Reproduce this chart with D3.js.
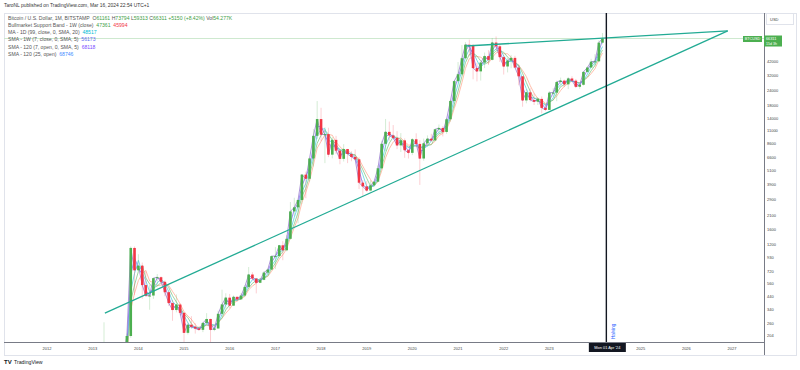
<!DOCTYPE html>
<html><head><meta charset="utf-8">
<script src="https://cdn.jsdelivr.net/npm/d3@7"></script>
<style>html,body{margin:0;padding:0;background:#fff;}svg{display:block;font-family:"Liberation Sans",Arial,sans-serif;}</style>
</head><body>
<svg id="c" width="800" height="370"></svg>
<script>
// ---- DATA (monthly BTC/USD, Bitstamp) ----
const firstMonth = "2013-01-01";
const opens = [
 13.3,20.4,33.4,93,139,129,97,106,135,133,204,1130,
 732,800,549,446,448,628,640,585,478,387,338,376,
 320,217,254,244,236,230,263,284,230,236,314,377,
 430,368,437,416,448,530,674,623,574,608,700,742,
 964,965,1190,1080,1350,2300,2490,2870,4700,4340,6440,10000,
 13850,10220,10330,6930,9240,7490,6390,7730,7020,6630,6330,4020,
 3740,3450,3820,4100,5320,8560,10800,10080,9600,8300,9150,7560,
 7180,9350,8540,6430,8640,9450,9140,11340,11650,10780,13800,19700,
 28950,33100,45200,58800,57750,37300,35000,41500,47100,43800,61300,57000,
 46200,38500,43200,45500,37700,31800,19900,23300,20050,19400,20500,17200,
 16550,23130,23150,28480,29250,27200,30480,29230,25940,26970,34650,37720,
 42280,42580,61161];
const highs = [
 20.4,33.8,93,266,140,130,111,135,144,214,1163,1163,
 1000,850,718,548,634,680,650,600,492,412,458,385,
 320,266,300,262,248,267,318,286,246,334,502,468,
 462,448,440,470,550,780,705,627,620,720,755,975,
 1150,1200,1290,1450,2760,3000,2900,4750,4980,6470,11400,19660,
 17250,11800,11700,9760,9990,7770,8500,7760,7410,7680,6590,4230,
 4140,4210,4140,5620,9100,13880,13200,12330,10950,10540,9500,7750,
 9580,10500,9180,9470,10080,10400,11450,12470,12070,14100,19900,29300,
 41950,58350,61780,64900,59500,41300,42300,50500,52900,67000,69000,59100,
 47900,45800,48200,47400,40000,31900,24700,25200,22800,20990,21500,18400,
 23900,25250,29200,31000,29850,31400,31800,30200,27500,35000,38400,44700,
 48970,64000,73794];
const lows = [
 13.2,19.1,33,50,85,88,65,96,110,105,197,455,
 726,420,438,340,420,540,565,442,365,274,323,305,
 152,210,237,214,226,220,253,162,224,236,300,347,
 350,365,396,414,436,520,606,467,570,603,678,740,
 750,940,890,1060,1330,2100,1830,2670,2970,4110,5500,9400,
 9000,5880,6600,6450,7030,5750,6070,5880,6100,6200,3550,3120,
 3360,3390,3690,4060,5300,7440,9100,9350,7720,7300,6520,6430,
 6870,8450,3850,6160,8120,8900,8980,10650,9880,10400,13200,17600,
 28100,32300,44900,47000,30000,28800,29300,37300,39600,43300,53300,42000,
 32900,34300,37200,37600,26700,17600,18800,19500,18200,18200,15500,16300,
 16500,21400,19600,26950,25800,24800,28900,25300,24900,26550,34100,37600,
 38500,41880,59313];
const closes = [
 20.4,33.4,93,139,129,97,106,135,133,204,1130,732,
 800,549,446,448,628,640,585,478,387,338,376,320,
 217,254,244,236,230,263,284,230,236,314,377,430,
 368,437,416,448,530,674,623,574,608,700,742,964,
 965,1190,1080,1350,2300,2490,2870,4700,4340,6440,10000,13850,
 10220,10330,6930,9240,7490,6390,7730,7020,6630,6330,4020,3740,
 3450,3820,4100,5320,8560,10800,10080,9600,8300,9150,7560,7180,
 9350,8540,6430,8640,9450,9140,11340,11650,10780,13800,19700,28950,
 33100,45200,58800,57750,37300,35000,41500,47100,43800,61300,57000,46200,
 38500,43200,45500,37700,31800,19900,23300,20050,19400,20500,17200,16550,
 23130,23150,28480,29250,27200,30480,29230,25940,26970,34650,37720,42280,
 42580,61160,66311];
const priceTicks = [204,260,340,440,560,720,930,1200,1600,2100,2900,3900,5100,6600,8600,11000,14000,18000,24000,32000,42000];
const yearTicks = [2012,2013,2014,2015,2016,2017,2018,2019,2020,2021,2022,2023,2025,2026,2027];
const trendLines = [
  {d1:"2013-04-08", p1:318, d2:"2026-11-28", p2:76800},
  {d1:"2021-03-05", p1:57300, d2:"2026-11-28", p2:76800}
];
const halvingDate = "2024-04-01";
const lastPrice = 66311;
const legendRows = [
  [["Bitcoin / U.S. Dollar, 1M, BITSTAMP  ","#555"],["O","#555"],["61161 ","#43a047"],["H","#555"],["73794 ","#43a047"],["L","#555"],["59313 ","#43a047"],["C","#555"],["66311 ","#43a047"],["+5150 (+8.42%) ","#43a047"],["Vol","#555"],["54.277K","#43a047"]],
  [["Bullmarket Support Band - 1W (close)  ","#555"],["47361  ","#43a047"],["45994","#f23645"]],
  [["MA - 1D (99, close, 0, SMA, 20)  ","#555"],["48517","#00bcd4"]],
  [["SMA - 1W (7, close, 0, SMA, 5)  ","#555"],["56173","#5c6bf0"]],
  [["SMA - 120 (7, open, 0, SMA, 5)  ","#555"],["68118","#7c4dff"]],
  [["SMA - 120 (25, open)  ","#555"],["68746","#448aff"]]
];

// ---- LAYOUT ----
const svg = d3.select("#c");
const L = 4, R = 764, T = 13, B = 342;
const months = d3.timeMonth.range(new Date(firstMonth), d3.timeMonth.offset(new Date(firstMonth), opens.length));
const bars = months.map((d,i)=>({d, o:opens[i], h:highs[i], l:lows[i], c:closes[i]}));

const x = d3.scaleTime().domain([new Date("2012-01-01"), new Date("2027-01-01")]).range([47, 732]);
const y = d3.scaleLog().domain([204, 42000]).range([336, 62]);

svg.append("clipPath").attr("id","pc").append("rect").attr("x",L).attr("y",T).attr("width",R-L).attr("height",B-T);

// frame
svg.append("rect").attr("x",L+0.5).attr("y",T+0.5).attr("width",796-L).attr("height",355-T).attr("fill","none").attr("stroke","#e0e3eb");
svg.append("line").attr("x1",R+0.5).attr("x2",R+0.5).attr("y1",T).attr("y2",355).attr("stroke","#787b86");
svg.append("line").attr("x1",L).attr("x2",R).attr("y1",B+0.5).attr("y2",B+0.5).attr("stroke","#787b86");

// header
svg.append("text").attr("x",4).attr("y",7).attr("font-size",4.9).attr("fill","#333")
  .text("TaroNL published on TradingView.com, Mar 16, 2024 22:54 UTC+1");

const g = svg.append("g").attr("clip-path","url(#pc)");

// last price line
g.append("line").attr("x1",L).attr("x2",R).attr("y1",y(lastPrice)).attr("y2",y(lastPrice))
  .attr("stroke","#c8e6c9").attr("stroke-width",0.9);

// moving-average style lines derived from closes
function sma(n){ return closes.map((v,i)=> i<n-1?null: d3.mean(closes.slice(i-n+1,i+1))); }
const maDefs = [
  {vals:sma(5), color:"#ffab91"},
  {vals:sma(4), color:"#81c784"},
  {vals:sma(3), color:"#4dd0e1"},
  {vals:sma(2), color:"#7b6cf0"},
  {vals:closes, color:"#9575cd"}
];
maDefs.forEach(m=>{
  const line = d3.line().defined((d,i)=>m.vals[i]!=null).x((d,i)=>x(months[i])).y((d,i)=>y(m.vals[i]));
  g.append("path").datum(months).attr("d",line).attr("fill","none").attr("stroke",m.color).attr("stroke-width",0.9).attr("opacity",0.85);
});

// candles
const up = "#4caf50", dn = "#f23645";
const bw = 2.6;
const cg = g.append("g");
cg.selectAll("line.w").data(bars).join("line").attr("class","w")
  .attr("x1",d=>x(d.d)).attr("x2",d=>x(d.d)).attr("y1",d=>y(d.h)).attr("y2",d=>y(d.l))
  .attr("stroke",d=>d.c>=d.o?up:dn).attr("stroke-opacity",0.3).attr("stroke-width",0.8);
cg.selectAll("rect.b").data(bars).join("rect").attr("class","b")
  .attr("x",d=>x(d.d)-bw/2).attr("width",bw)
  .attr("y",d=>y(Math.max(d.o,d.c)))
  .attr("height",d=>Math.max(1, Math.abs(y(d.o)-y(d.c))))
  .attr("fill",d=>d.c>=d.o?up:dn);

// trend lines
trendLines.forEach(t=>{
  g.append("line").attr("x1",x(new Date(t.d1))).attr("y1",y(t.p1)).attr("x2",x(new Date(t.d2))).attr("y2",y(t.p2))
   .attr("stroke","#22ab94").attr("stroke-width",1.3);
});

// halving vertical line
const hx = x(new Date(halvingDate));
svg.append("line").attr("x1",hx).attr("x2",hx).attr("y1",T).attr("y2",B).attr("stroke","#131722").attr("stroke-width",1.4);
svg.append("text").attr("transform",`translate(${hx+8.5},339) rotate(-90)`).attr("font-size",4.6).attr("fill","#2962ff").text("Halving");

// legend
legendRows.forEach((row,i)=>{
  const t = svg.append("text").attr("x",8).attr("y",19.5+i*7.3).attr("font-size",5.1).attr("xml:space","preserve");
  row.forEach(([s,c])=> t.append("tspan").attr("fill",c).text(s));
});

// price axis
svg.selectAll("text.pt").data(priceTicks).join("text").attr("class","pt")
  .attr("x",767).attr("y",d=>y(d)+1.4).attr("font-size",4).attr("fill","#444").text(d=>d);
svg.append("rect").attr("x",766.5).attr("y",13.5).attr("width",27).attr("height",11).attr("fill","#fff").attr("stroke","#e0e3eb");
svg.append("text").attr("x",770).attr("y",20.5).attr("font-size",4).attr("fill","#444").text("USD");

// price labels
const ly = y(lastPrice);
svg.append("rect").attr("x",743).attr("y",ly-2.5).attr("width",19).attr("height",6).attr("fill","#4caf50");
svg.append("text").attr("x",752.5).attr("y",ly+1.9).attr("text-anchor","middle").attr("font-size",3.8).attr("fill","#fff").text("BTCUSD");
svg.append("rect").attr("x",764).attr("y",ly-3).attr("width",18).attr("height",11).attr("fill","#4caf50");
svg.append("text").attr("x",766).attr("y",ly+1.5).attr("font-size",3.8).attr("fill","#fff").text(lastPrice);
svg.append("text").attr("x",766).attr("y",ly+6.3).attr("font-size",3.6).attr("fill","#fff").text("15d 3h");

// time axis
svg.selectAll("text.yt").data(yearTicks).join("text").attr("class","yt")
  .attr("x",d=>x(new Date(d,0,1))).attr("y",350).attr("text-anchor","middle").attr("font-size",4).attr("fill","#444").text(d=>d);
svg.append("rect").attr("x",hx-17.5).attr("y",343).attr("width",37).attr("height",9).attr("fill","#131722");
svg.append("text").attr("x",hx+1).attr("y",349.2).attr("text-anchor","middle").attr("font-size",3.9).attr("fill","#fff").text("Mon 01 Apr '24");

// TradingView mark
svg.append("text").attr("x",4).attr("y",364).attr("font-size",6).attr("font-weight","bold").attr("fill","#131722").text("TV");
svg.append("text").attr("x",14).attr("y",364).attr("font-size",5.2).attr("fill","#131722").text("TradingView");
</script>
</body></html>
